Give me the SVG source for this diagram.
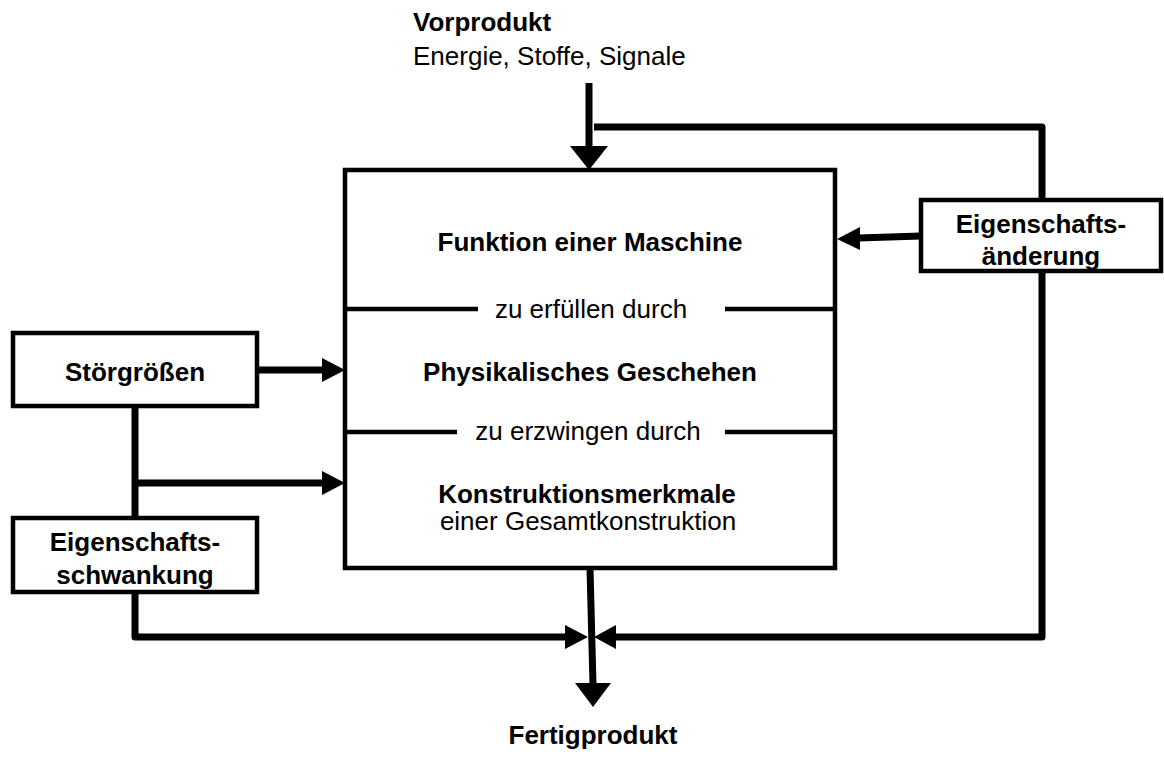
<svg xmlns="http://www.w3.org/2000/svg" width="1164" height="760" viewBox="0 0 1164 760">
  <style>
    text { font-family: "Liberation Sans", Arial, sans-serif; font-size: 26px; fill: #000; }
    .b { font-weight: bold; }
    .c { text-anchor: middle; }
    .box { fill: #fff; stroke: #000; stroke-width: 4.5; }
    .wire { fill: none; stroke: #000; stroke-width: 7; stroke-linejoin: round; }
    .sep { stroke: #000; stroke-width: 4.5; }
    .head { fill: #000; }
  </style>
  <rect width="1164" height="760" fill="#fff"/>

  <!-- input / output labels -->
  <g id="vorprodukt">
    <text class="b" x="413" y="31">Vorprodukt</text>
    <text x="413" y="65">Energie, Stoffe, Signale</text>
  </g>
  <g id="fertigprodukt">
    <text class="b c" x="593" y="744">Fertigprodukt</text>
  </g>

  <!-- connectors -->
  <g id="connectors">
    <!-- product in -->
    <line class="wire" x1="589" y1="83" x2="589" y2="148"/>
    <polygon class="head" points="570,146 608,146 589,170"/>
    <!-- feedback loop over the top -->
    <polyline class="wire" points="1042,200 1042,127 594,127"/>
    <!-- Eigenschaftsänderung into machine -->
    <line class="wire" x1="921" y1="236" x2="858" y2="238"/>
    <polygon class="head" points="860,227 860,250 837,239"/>
    <!-- right branch down to the product out -->
    <polyline class="wire" points="1042,271 1042,637 613,637"/>
    <polygon class="head" points="616,625 616,649 594,637"/>
    <!-- Störgrößen into machine -->
    <line class="wire" x1="257" y1="370" x2="324" y2="370"/>
    <polygon class="head" points="322,358 322,382 345,370"/>
    <!-- disturbance branch -->
    <line class="wire" x1="135" y1="406" x2="135" y2="518"/>
    <line class="wire" x1="135" y1="483" x2="324" y2="483"/>
    <polygon class="head" points="322,471 322,495 345,483"/>
    <!-- Eigenschaftsschwankung down to the product out -->
    <polyline class="wire" points="135,592 135,637 567,637"/>
    <polygon class="head" points="565,625 565,649 588,637"/>
    <!-- product out -->
    <line class="wire" x1="590" y1="568" x2="593" y2="685"/>
    <polygon class="head" points="575,683 611,683 593,707"/>
  </g>

  <!-- machine -->
  <g id="maschine">
    <rect class="box" x="345" y="170" width="490" height="398"/>
    <line class="sep" x1="345" y1="309" x2="478" y2="309"/>
    <line class="sep" x1="725" y1="309" x2="835" y2="309"/>
    <line class="sep" x1="345" y1="432" x2="457" y2="432"/>
    <line class="sep" x1="725" y1="432" x2="835" y2="432"/>
    <text class="b c" x="590" y="251">Funktion einer Maschine</text>
    <text class="c" x="591" y="318">zu erfüllen durch</text>
    <text class="b c" x="590" y="381">Physikalisches Geschehen</text>
    <text class="c" x="588" y="440">zu erzwingen durch</text>
    <text class="b c" x="587" y="503">Konstruktionsmerkmale</text>
    <text class="c" x="588" y="530">einer Gesamtkonstruktion</text>
  </g>

  <g id="eigenschaftsaenderung">
    <rect class="box" x="921" y="200" width="240" height="71"/>
    <text class="b c" x="1041" y="233">Eigenschafts-</text>
    <text class="b c" x="1041" y="265">änderung</text>
  </g>

  <g id="stoergroessen">
    <rect class="box" x="13" y="333" width="244" height="73"/>
    <text class="b c" x="135" y="381">Störgrößen</text>
  </g>

  <g id="eigenschaftsschwankung">
    <rect class="box" x="13" y="518" width="244" height="74"/>
    <text class="b c" x="135" y="551">Eigenschafts-</text>
    <text class="b c" x="135" y="584">schwankung</text>
  </g>
</svg>
